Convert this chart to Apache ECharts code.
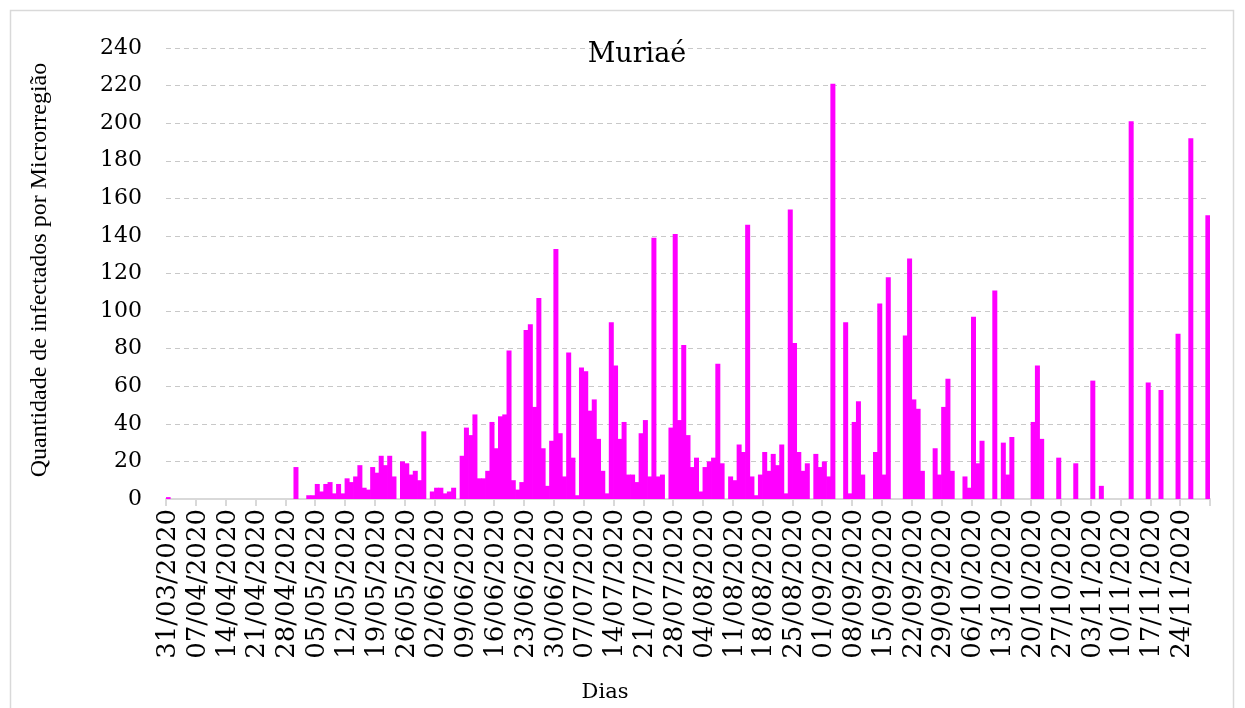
<!DOCTYPE html>
<html>
<head>
<meta charset="utf-8">
<title>Muriaé</title>
<script src="https://cdn.jsdelivr.net/npm/echarts@6/dist/echarts.min.js"></script>
<style>
  html, body { margin: 0; padding: 0; background: #fff; }
  #chart { width: 1245px; height: 708px; }
</style>
</head>
<body>
<div id="chart"></div>
<script>
// casos diários por mês (31/03/2020 a 30/11/2020)
const mar = [1];
const abr = [0, 0, 0, 0, 0, 0, 0, 0, 0, 0, 0, 0, 0, 0, 0, 0, 0, 0, 0, 0, 0, 0, 0, 0, 0, 0, 0, 0, 0, 17];
const mai = [0, 0, 2, 2, 8, 4, 8, 9, 3, 8, 3, 11, 9, 12, 18, 6, 5, 17, 14, 23, 18, 23, 12, 0, 20, 19, 13, 15, 10, 36, 0];
const jun = [4, 6, 6, 3, 4, 6, 0, 23, 38, 34, 45, 11, 11, 15, 41, 27, 44, 45, 79, 10, 5, 9, 90, 93, 49, 107, 27, 7, 31, 133];
const jul = [35, 12, 78, 22, 2, 70, 68, 47, 53, 32, 15, 3, 94, 71, 32, 41, 13, 13, 9, 35, 42, 12, 139, 12, 13, 0, 38, 141, 42, 82, 34];
const ago = [17, 22, 4, 17, 20, 22, 72, 19, 0, 12, 10, 29, 25, 146, 12, 2, 13, 25, 15, 24, 18, 29, 3, 154, 83, 25, 15, 19, 0, 24, 17];
const set = [20, 12, 221, 0, 0, 94, 3, 41, 52, 13, 0, 0, 25, 104, 13, 118, 0, 0, 0, 87, 128, 53, 48, 15, 0, 0, 27, 13, 49, 64];
const out = [15, 0, 0, 12, 6, 97, 19, 31, 0, 0, 111, 0, 30, 13, 33, 0, 0, 0, 0, 41, 71, 32, 0, 0, 0, 22, 0, 0, 0, 19, 0];
const nov = [0, 0, 63, 0, 7, 0, 0, 0, 0, 0, 0, 201, 0, 0, 0, 62, 0, 0, 58, 0, 0, 0, 88, 0, 0, 192, 0, 0, 0, 151];

const valores = [].concat(mar, abr, mai, jun, jul, ago, set, out, nov);

// datas dd/mm/aaaa
const dias = [];
for (let i = 0; i < valores.length; i++) {
  const d = new Date(2020, 2, 31 + i);
  const dd = String(d.getDate()).padStart(2, '0');
  const mm = String(d.getMonth() + 1).padStart(2, '0');
  dias.push(dd + '/' + mm + '/' + d.getFullYear());
}

const yTicks = [0, 240, 20]; // min, max, intervalo

const chart = echarts.init(document.getElementById('chart'));

const option = {
  animation: false,
  backgroundColor: '#ffffff',
  title: {
    text: 'Muriaé',
    left: 632,
    top: 36,
    textAlign: 'center',
    textStyle: {
      fontFamily: 'DejaVu Serif',
      fontSize: 27,
      fontWeight: 'normal',
      color: '#000'
    }
  },
  grid: {
    left: 166,
    right: 35,
    top: 48,
    bottom: 209,
    containLabel: false
  },
  xAxis: {
    type: 'category',
    data: dias,
    boundaryGap: true,
    axisLine: {
      lineStyle: { color: '#d9d9d9', width: 2 }
    },
    axisTick: {
      show: true,
      interval: 6,
      length: 7,
      lineStyle: { color: '#d9d9d9', width: 2 }
    },
    axisLabel: {
      interval: 6,
      rotate: 90,
      margin: 10,
      fontFamily: 'DejaVu Serif',
      fontSize: 26,
      color: '#000'
    },
    splitLine: { show: false }
  },
  yAxis: {
    type: 'value',
    min: yTicks[0],
    max: yTicks[1],
    interval: yTicks[2],
    axisLine: { show: false },
    axisTick: { show: false },
    axisLabel: {
      margin: 24,
      fontFamily: 'DejaVu Serif',
      fontSize: 22,
      color: '#000'
    },
    splitLine: {
      lineStyle: { color: '#c8c8c8', type: [5, 4], width: 1 }
    }
  },
  series: [
    {
      name: 'Muriaé',
      type: 'bar',
      data: valores,
      barWidth: 5,
      itemStyle: {
        color: '#ff00ff'
      }
    }
  ],
  graphic: [
    {
      type: 'rect',
      shape: { x: 10.5, y: 10.5, width: 1223, height: 720 },
      style: { fill: 'none', stroke: '#d9d9d9', lineWidth: 1.5 },
      silent: true
    },
    {
      type: 'text',
      x: 40,
      y: 270,
      rotation: Math.PI / 2,
      style: {
        text: 'Quantidade de infectados por Microrregião',
        fontFamily: 'Liberation Serif',
        fontSize: 24,
        fill: '#000',
        align: 'center',
        verticalAlign: 'middle'
      }
    },
    {
      type: 'text',
      x: 605,
      y: 693,
      style: {
        text: 'Dias',
        fontFamily: 'DejaVu Serif',
        fontSize: 21,
        fill: '#000',
        align: 'center',
        verticalAlign: 'middle'
      }
    }
  ]
};

chart.setOption(option);
</script>
</body>
</html>
